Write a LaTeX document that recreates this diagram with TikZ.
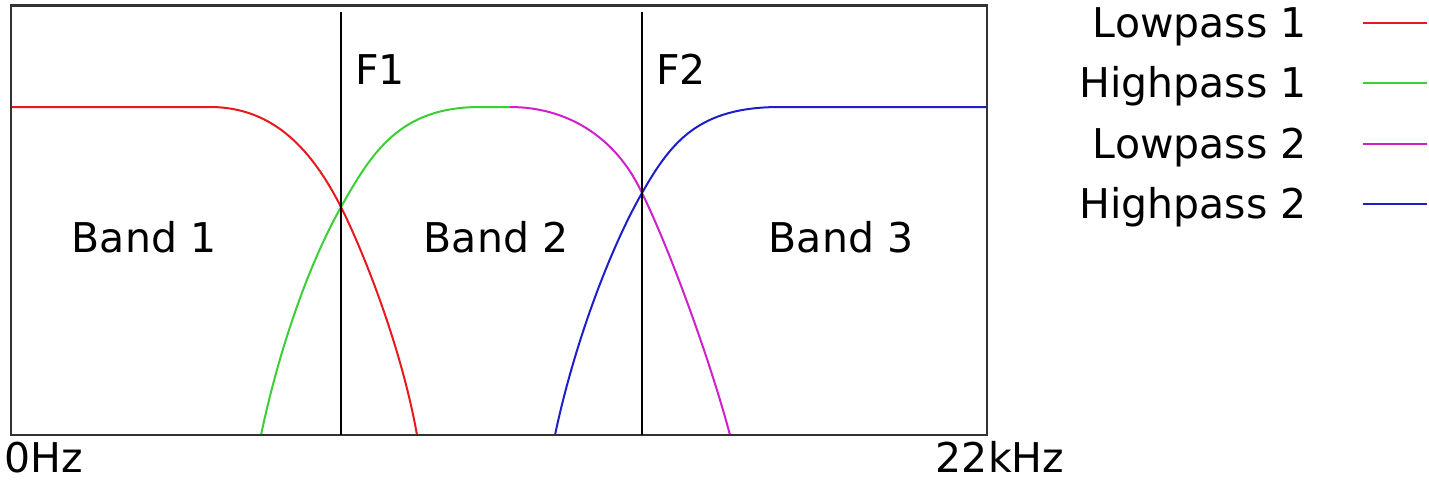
\documentclass[tikz,border=0pt]{standalone}
\usepackage{fontspec}
\setmainfont{DejaVu Sans}
\usetikzlibrary{positioning}
\definecolor{lpone}{HTML}{E8191E}
\definecolor{hpone}{HTML}{3ACF34}
\definecolor{lptwo}{HTML}{D11FCB}
\definecolor{hptwo}{HTML}{1E1EC8}

\begin{document}
\begin{tikzpicture}[x=0.5pt,y=-0.5pt,font=\fontsize{20.5}{24}\selectfont,
  lbl/.style={inner sep=0pt,anchor=base},
  curve/.style={line width=1pt,line join=round}]
  \useasboundingbox (0,0) rectangle (1429,479);
  % filter responses
  \draw[lpone,curve] (11,107) -- (210,107) .. controls (275,107) and (313,152) .. (341,207) .. controls (365,255) and (402,350) .. (417,435);
  \draw[hpone,curve] (261,435) .. controls (280,345) and (310,262) .. (341,207) .. controls (372,152) and (400,107) .. (480,107) -- (510,107);
  \draw[lptwo,curve] (510,107) .. controls (565,107) and (615,135) .. (642,193) .. controls (670,250) and (710,360) .. (730,435);
  \draw[hptwo,curve] (555,435) .. controls (575,340) and (612,245) .. (642,193) .. controls (672,140) and (700,107) .. (780,107) -- (986,107);
  % frame and crossover lines
  \draw[black!80,line width=1.1pt] (11,5.5) rectangle (987,435);
  \draw[line width=0.8pt] (341,12) -- (341,435);
  \draw[line width=0.8pt] (642,12) -- (642,435);
  \node[lbl] (fone) at (380,84) {F1};
  \node[lbl] (ftwo) at (681,84) {F2};
  \node[lbl] (bandone) at (144,252) {Band 1};
  \node[lbl] (bandtwo) at (496,252) {Band 2};
  \node[lbl] (bandthree) at (841,252) {Band 3};
  \node[lbl] (fmin) at (44,472) {0Hz};
  \node[lbl] (fmax) at (1000,472) {22kHz};
  % legend
  \foreach \txt/\col/\y [count=\i] in {Lowpass 1/lpone/37,Highpass 1/hpone/97,Lowpass 2/lptwo/158,Highpass 2/hptwo/218}{
    \node[lbl,anchor=base east] (leg\i) at (1307,\y) {\txt};
    \draw[\col,line width=0.9pt] ([shift={(56,-14)}]leg\i.base east) -- ++(64,0);
  }
\end{tikzpicture}
\end{document}
